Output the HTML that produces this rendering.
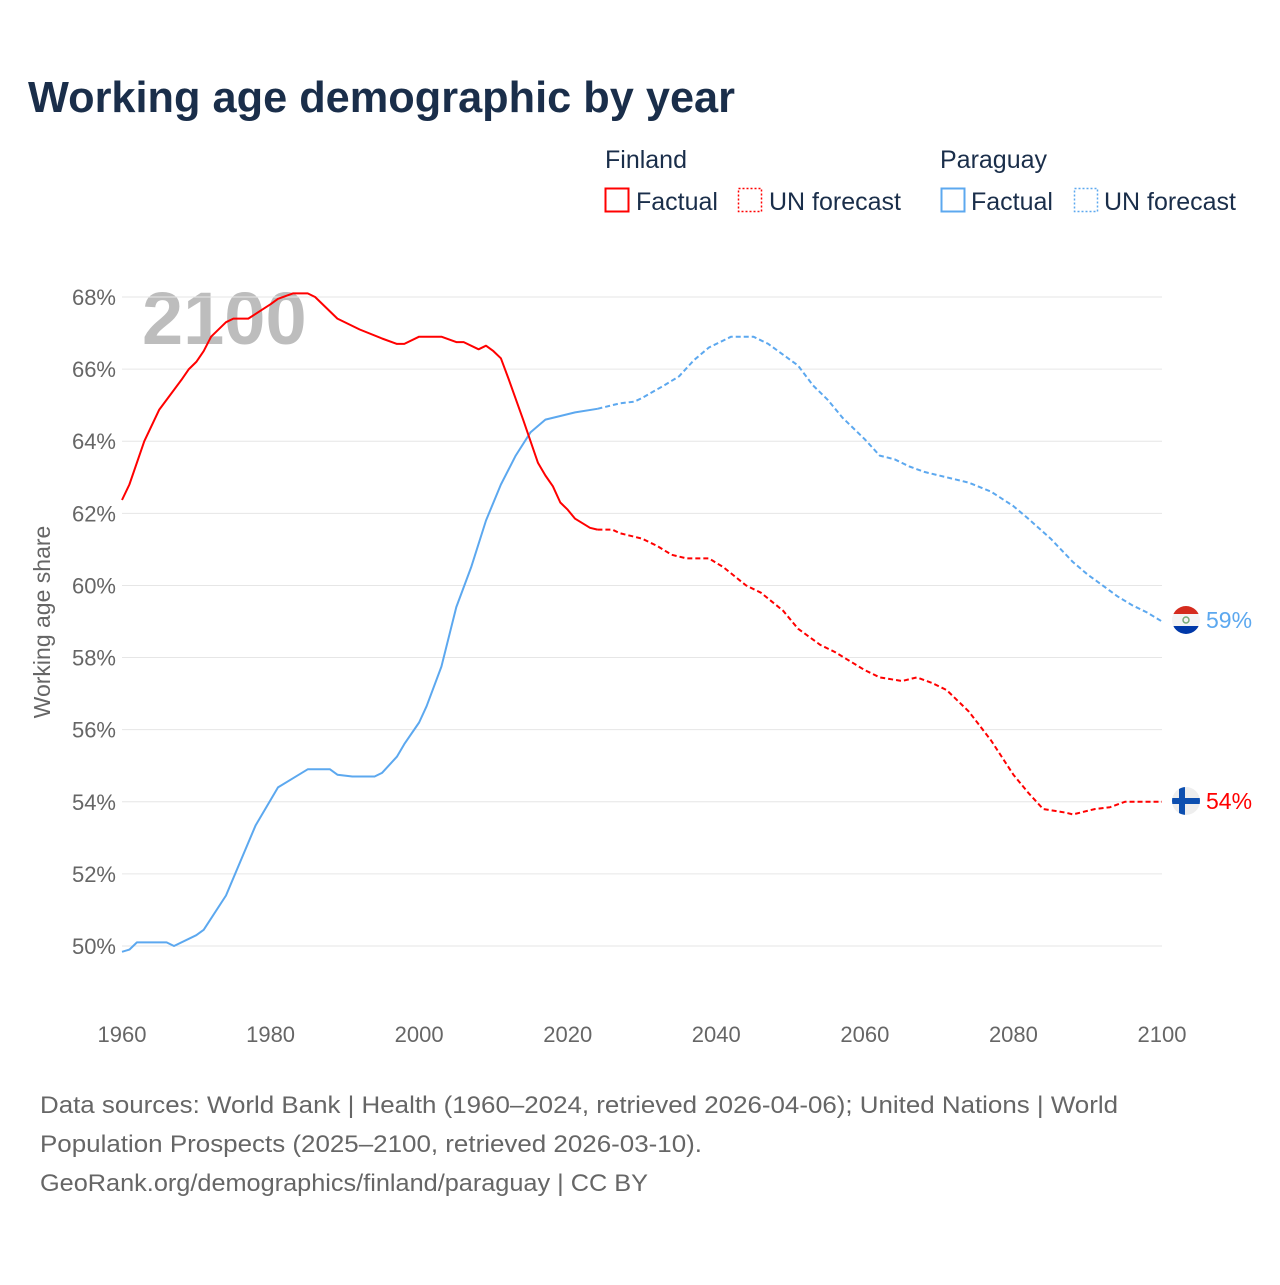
<!DOCTYPE html>
<html><head><meta charset="utf-8"><style>
body{margin:0;background:#fff;width:1280px;height:1280px;overflow:hidden;font-family:"Liberation Sans",sans-serif}
</style></head><body>
<svg id="chart" width="1280" height="1280" xmlns="http://www.w3.org/2000/svg" font-family="Liberation Sans, sans-serif">
<text x="28" y="112" font-size="44" font-weight="bold" fill="#1a2e4a" textLength="707" lengthAdjust="spacingAndGlyphs">Working age demographic by year</text>
<g font-size="25" fill="#1a2e4a">
<text x="605" y="168" fill="#1a2e4a">Finland</text>
<text x="940" y="168" fill="#1a2e4a">Paraguay</text>
<rect x="605.5" y="188.5" width="23" height="23" fill="none" stroke="#f00" stroke-width="2"/>
<text x="636" y="210">Factual</text>
<rect x="738.5" y="188.5" width="23" height="23" fill="none" stroke="#f00" stroke-width="1.5" stroke-dasharray="2 2"/>
<text x="769" y="210">UN forecast</text>
<rect x="941.5" y="188.5" width="23" height="23" fill="none" stroke="#5ca8ef" stroke-width="2"/>
<text x="971" y="210">Factual</text>
<rect x="1074.5" y="188.5" width="23" height="23" fill="none" stroke="#5ca8ef" stroke-width="1.5" stroke-dasharray="2 2"/>
<text x="1104" y="210">UN forecast</text>
</g>
<text x="142" y="344" font-size="74" font-weight="bold" fill="#bdbdbd">2100</text>
<g id="grid"></g><g id="yticks"></g><g id="xticks"></g><g id="lines"></g>
<text transform="translate(50,622) rotate(-90)" text-anchor="middle" font-size="23" fill="#666">Working age share</text>
<g>
<clipPath id="cp1"><circle cx="1186" cy="620" r="14"/></clipPath>
<g clip-path="url(#cp1)"><rect x="1170" y="604" width="32" height="10" fill="#d52b1e"/><rect x="1170" y="614" width="32" height="12" fill="#f4f4f4"/><rect x="1170" y="626" width="32" height="10" fill="#0038a8"/><circle cx="1186" cy="620" r="3" fill="none" stroke="#7a7" stroke-width="1.5"/></g>
</g>
<text x="1206" y="628" font-size="23" fill="#5ca8ef">59%</text>
<g>
<clipPath id="cp2"><circle cx="1186" cy="801" r="14"/></clipPath>
<g clip-path="url(#cp2)"><rect x="1170" y="785" width="32" height="32" fill="#eee"/><rect x="1170" y="798" width="32" height="6" fill="#0d4fb0"/><rect x="1179" y="785" width="6" height="32" fill="#0d4fb0"/></g>
</g>
<text x="1206" y="809" font-size="23" fill="#f00">54%</text>
<g font-size="24" fill="#666">
<text x="40" y="1113" textLength="1078" lengthAdjust="spacingAndGlyphs">Data sources: World Bank | Health (1960–2024, retrieved 2026-04-06); United Nations | World</text>
<text x="40" y="1152" textLength="662" lengthAdjust="spacingAndGlyphs">Population Prospects (2025–2100, retrieved 2026-03-10).</text>
<text x="40" y="1191" textLength="608" lengthAdjust="spacingAndGlyphs">GeoRank.org/demographics/finland/paraguay | CC BY</text>
</g>
</svg>
<script>
const yTicks=[50,52,54,56,58,60,62,64,66,68];
const xTicks=[1960,1980,2000,2020,2040,2060,2080,2100];
const finYears=[1960,1961,1963,1965,1968,1969,1970,1971,1972,1974,1975,1977,1980,1981,1983,1985,1986,1989,1992,1995,1997,1998,2000,2003,2005,2006,2008,2009,2010,2011,2012,2014,2016,2017,2018,2019,2020,2021,2023,2024];
const finValues=[62.37,62.8,64.0,64.87,65.7,66.0,66.2,66.5,66.9,67.3,67.4,67.4,67.8,67.95,68.1,68.1,68.0,67.4,67.1,66.85,66.7,66.7,66.9,66.9,66.75,66.75,66.55,66.65,66.5,66.3,65.75,64.6,63.4,63.05,62.75,62.3,62.1,61.85,61.6,61.55];
const finFcYears=[2024,2026,2027,2030,2032,2034,2036,2039,2041,2044,2046,2049,2051,2054,2056,2058,2060,2062,2065,2067,2069,2071,2074,2077,2080,2082,2084,2087,2088,2089,2091,2093,2095,2100];
const finFcValues=[61.55,61.55,61.45,61.3,61.1,60.85,60.75,60.75,60.5,60.0,59.8,59.3,58.8,58.35,58.15,57.9,57.65,57.45,57.35,57.45,57.3,57.1,56.5,55.7,54.75,54.25,53.8,53.7,53.65,53.7,53.8,53.85,54.0,54.0];
const parYears=[1960,1961,1962,1966,1967,1970,1971,1974,1978,1981,1983,1985,1988,1989,1991,1994,1995,1997,1998,2000,2001,2003,2005,2007,2009,2011,2013,2015,2017,2019,2021,2024];
const parValues=[49.84,49.9,50.1,50.1,50.0,50.3,50.45,51.4,53.35,54.4,54.65,54.9,54.9,54.75,54.7,54.7,54.8,55.25,55.6,56.2,56.65,57.75,59.4,60.5,61.8,62.8,63.6,64.25,64.6,64.7,64.8,64.9];
const parFcYears=[2024,2027,2029,2030,2033,2035,2037,2039,2042,2045,2047,2049,2051,2053,2055,2057,2060,2062,2064,2066,2068,2070,2072,2074,2077,2080,2082,2085,2088,2090,2092,2094,2096,2098,2100];
const parFcValues=[64.9,65.05,65.1,65.2,65.55,65.8,66.25,66.6,66.9,66.9,66.7,66.4,66.1,65.55,65.15,64.65,64.05,63.6,63.5,63.3,63.15,63.05,62.95,62.85,62.6,62.2,61.85,61.3,60.65,60.3,60.0,59.7,59.45,59.25,59.0];
const NS="http://www.w3.org/2000/svg";
const X=y=>122+(y-1960)*(1040/140);
const Y=v=>946-(v-50)*(649/18);
function mk(t,a,p){const e=document.createElementNS(NS,t);for(const k in a)e.setAttribute(k,a[k]);document.getElementById(p).appendChild(e);return e;}
yTicks.forEach(v=>{
 const g=mk('line',{x1:122,x2:1162,y1:Y(v),y2:Y(v),stroke:'#e6e6e6','stroke-width':1},'grid');
 
 
 const t=mk('text',{x:116,y:Y(v)+8,'text-anchor':'end','font-size':22,fill:'#666'},'yticks');
 t.textContent=v+'%';
 
 
});
xTicks.forEach(y=>{
 const t=mk('text',{x:X(y),y:1042,'text-anchor':'middle','font-size':22,fill:'#666'},'xticks');
 t.textContent=y;
 
 
});
function line(xs,vs,color,dash,name){
 const d=xs.map((y,i)=>(i?'L':'M')+X(y).toFixed(1)+' '+Y(vs[i]).toFixed(1)).join(' ');
 const p=mk('path',{d:d,fill:'none',stroke:color,'stroke-width':2,'stroke-linejoin':'round'},'lines');
 if(dash)p.setAttribute('stroke-dasharray','5 3');
 
 
}
line(parYears,parValues,'#5ca8ef',false,'paraguay-factual-line');
line(parFcYears,parFcValues,'#5ca8ef',true,'paraguay-forecast-line');
line(finYears,finValues,'#f00',false,'finland-factual-line');
line(finFcYears,finFcValues,'#f00',true,'finland-forecast-line');
</script>
</body></html>
